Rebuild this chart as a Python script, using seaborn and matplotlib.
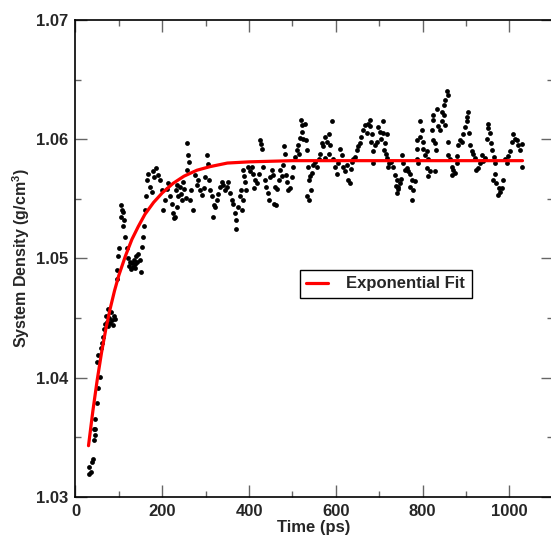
# System density vs time with exponential fit
import matplotlib
matplotlib.use("Agg")
import seaborn as sns
import matplotlib.pyplot as plt
from matplotlib.ticker import MultipleLocator, FormatStrFormatter

# simulation samples (time in ps, density in g/cm3)
time_ps = [
    30, 32, 35, 37, 40, 42, 43, 44, 45, 46,
    49, 50, 52, 53, 56, 59, 62, 64, 66, 68,
    70, 72, 74, 76, 78, 80, 82, 84, 86, 88,
    90, 95, 96, 99, 100, 104, 106, 107, 109, 110,
    112, 114, 118, 122, 124, 126, 128, 130, 132, 134,
    136, 138, 140, 142, 145, 149, 152, 154, 156, 158,
    160, 162, 164, 168, 172, 176, 179, 182, 186, 190,
    195, 199, 202, 206, 210, 214, 218, 222, 225, 227,
    229, 231, 233, 235, 237, 240, 243, 245, 248, 251,
    254, 256, 258, 260, 262, 264, 267, 271, 275, 279,
    283, 287, 291, 295, 299, 302, 306, 308, 310, 314,
    317, 319, 321, 325, 329, 333, 337, 341, 345, 349,
    352, 356, 360, 364, 368, 370, 371, 375, 379, 381,
    383, 385, 387, 389, 391, 394, 398, 402, 406, 410,
    412, 414, 418, 422, 425, 427, 429, 433, 437, 440,
    444, 446, 449, 452, 456, 458, 460, 462, 465, 468,
    471, 475, 479, 480, 482, 485, 487, 490, 494, 498,
    502, 506, 510, 513, 515, 517, 519, 521, 522, 525,
    529, 530, 533, 533, 536, 537, 538, 540, 542, 544,
    548, 552, 556, 560, 563, 567, 571, 575, 575, 579,
    583, 583, 586, 590, 594, 598, 602, 606, 609, 613,
    617, 621, 625, 629, 632, 634, 636, 640, 644, 648,
    652, 655, 659, 663, 667, 671, 675, 679, 679, 682,
    683, 685, 686, 690, 694, 698, 702, 705, 708, 709,
    711, 713, 715, 717, 717, 720, 723, 727, 732, 736,
    738, 740, 740, 742, 744, 747, 750, 752, 755, 759,
    763, 767, 771, 771, 775, 775, 778, 782, 786, 786,
    788, 790, 794, 794, 798, 801, 801, 805, 809, 809,
    813, 813, 817, 821, 823, 824, 824, 828, 828, 830,
    832, 836, 840, 844, 844, 848, 850, 851, 852, 855,
    858, 859, 859, 863, 867, 867, 871, 875, 878, 880,
    882, 886, 890, 894, 898, 901, 903, 905, 907, 909,
    913, 917, 920, 924, 928, 932, 936, 940, 944, 948,
    951, 951, 955, 957, 959, 963, 965, 967, 967, 970,
    974, 976, 978, 982, 986, 990, 994, 997, 1001, 1005,
    1009, 1012, 1017, 1020, 1024, 1028, 1030,
]
density = [
    1.0325, 1.0319, 1.0321, 1.0329, 1.0332, 1.0348, 1.0357, 1.0365, 1.0352, 1.0357,
    1.0379, 1.0413, 1.0391, 1.0419, 1.0401, 1.0425, 1.0429, 1.0434, 1.0441, 1.0445,
    1.0452, 1.0447, 1.0458, 1.0443, 1.0450, 1.0446, 1.0455, 1.0448, 1.0444, 1.0452,
    1.0449, 1.0483, 1.0490, 1.0502, 1.0509, 1.0535, 1.0545, 1.0541, 1.0539, 1.0527,
    1.0532, 1.0518, 1.0509, 1.0500, 1.0494, 1.0497, 1.0491, 1.0496, 1.0493, 1.0499,
    1.0492, 1.0495, 1.0502, 1.0497, 1.0504, 1.0499, 1.0489, 1.0510, 1.0518, 1.0527,
    1.0541, 1.0552, 1.0566, 1.0571, 1.0560, 1.0556, 1.0573, 1.0568, 1.0576, 1.0570,
    1.0566, 1.0557, 1.0541, 1.0549, 1.0558, 1.0563, 1.0552, 1.0546, 1.0538, 1.0534,
    1.0535, 1.0557, 1.0543, 1.0562, 1.0552, 1.0560, 1.0554, 1.0549, 1.0564, 1.0558,
    1.0551, 1.0597, 1.0574, 1.0587, 1.0581, 1.0549, 1.0557, 1.0541, 1.0570, 1.0562,
    1.0566, 1.0557, 1.0553, 1.0559, 1.0568, 1.0587, 1.0579, 1.0566, 1.0557, 1.0552,
    1.0535, 1.0545, 1.0543, 1.0549, 1.0554, 1.0560, 1.0564, 1.0562, 1.0557, 1.0560,
    1.0564, 1.0555, 1.0549, 1.0546, 1.0538, 1.0525, 1.0532, 1.0543, 1.0552, 1.0557,
    1.0541, 1.0549, 1.0574, 1.0569, 1.0564, 1.0557, 1.0577, 1.0573, 1.0577, 1.0571,
    1.0559, 1.0566, 1.0563, 1.0571, 1.0599, 1.0596, 1.0592, 1.0577, 1.0566, 1.0560,
    1.0555, 1.0549, 1.0568, 1.0574, 1.0570, 1.0546, 1.0560, 1.0545, 1.0558, 1.0566,
    1.0574, 1.0569, 1.0578, 1.0594, 1.0588, 1.0570, 1.0564, 1.0557, 1.0559, 1.0568,
    1.0577, 1.0585, 1.0591, 1.0595, 1.0588, 1.0601, 1.0616, 1.0606, 1.0612, 1.0600,
    1.0613, 1.0599, 1.0591, 1.0552, 1.0577, 1.0566, 1.0549, 1.0569, 1.0557, 1.0572,
    1.0578, 1.0581, 1.0577, 1.0583, 1.0588, 1.0597, 1.0594, 1.0602, 1.0584, 1.0598,
    1.0604, 1.0588, 1.0595, 1.0615, 1.0583, 1.0577, 1.0571, 1.0580, 1.0592, 1.0587,
    1.0577, 1.0573, 1.0578, 1.0566, 1.0563, 1.0575, 1.0581, 1.0583, 1.0585, 1.0591,
    1.0594, 1.0597, 1.0602, 1.0608, 1.0612, 1.0605, 1.0613, 1.0611, 1.0616, 1.0598,
    1.0604, 1.0580, 1.0590, 1.0595, 1.0598, 1.0610, 1.0606, 1.0600, 1.0615, 1.0605,
    1.0591, 1.0597, 1.0588, 1.0604, 1.0584, 1.0577, 1.0580, 1.0581, 1.0577, 1.0570,
    1.0561, 1.0566, 1.0555, 1.0558, 1.0560, 1.0563, 1.0567, 1.0587, 1.0580, 1.0574,
    1.0576, 1.0573, 1.0571, 1.0560, 1.0566, 1.0549, 1.0557, 1.0565, 1.0599, 1.0592,
    1.0583, 1.0580, 1.0615, 1.0602, 1.0608, 1.0598, 1.0592, 1.0587, 1.0590, 1.0576,
    1.0583, 1.0569, 1.0573, 1.0608, 1.0620, 1.0616, 1.0599, 1.0573, 1.0597, 1.0591,
    1.0625, 1.0611, 1.0608, 1.0623, 1.0615, 1.0620, 1.0629, 1.0633, 1.0612, 1.0640,
    1.0637, 1.0598, 1.0587, 1.0583, 1.0577, 1.0570, 1.0574, 1.0572, 1.0580, 1.0586,
    1.0595, 1.0599, 1.0598, 1.0604, 1.0610, 1.0615, 1.0619, 1.0623, 1.0605, 1.0595,
    1.0590, 1.0588, 1.0584, 1.0574, 1.0576, 1.0580, 1.0587, 1.0582, 1.0584, 1.0600,
    1.0613, 1.0609, 1.0605, 1.0597, 1.0591, 1.0566, 1.0585, 1.0580, 1.0571, 1.0563,
    1.0553, 1.0559, 1.0556, 1.0559, 1.0566, 1.0583, 1.0580, 1.0586, 1.0590, 1.0598,
    1.0604, 1.0600, 1.0599, 1.0595, 1.0591, 1.0577, 1.0596,
]

# exponential fit curve
fit_time = [30, 40, 50, 60, 70, 80, 90, 100, 115, 130, 145, 160,
            180, 200, 225, 250, 280, 310, 350, 400, 500, 1030]
fit_density = [1.0343, 1.0372, 1.0398, 1.0421, 1.0441, 1.0458, 1.0473, 1.0486,
               1.0502, 1.0516, 1.0527, 1.0537, 1.0547, 1.0555, 1.0563, 1.0569,
               1.0574, 1.0577, 1.0580, 1.0581, 1.0582, 1.0582]

sns.set_style("ticks")
plt.rcParams["font.family"] = ["Liberation Sans", "DejaVu Sans"]
plt.rcParams["font.weight"] = "bold"
plt.rcParams["mathtext.fontset"] = "custom"
plt.rcParams["mathtext.rm"] = "Liberation Sans:bold"
plt.rcParams["mathtext.default"] = "rm"

fig = plt.figure(figsize=(5.51, 5.36), dpi=100)
ax = fig.add_axes([0.137, 0.0728, 0.8664, 0.890])

sns.scatterplot(x=time_ps, y=density, color="black", s=12, linewidth=0, ax=ax)
sns.lineplot(x=fit_time, y=fit_density, color="red", linewidth=2.3,
             sort=False, estimator=None, label="Exponential Fit", ax=ax)

ax.set_xlim(0, 1100)
ax.set_ylim(1.03, 1.07)
ax.set_xticks([0, 200, 400, 600, 800, 1000])
ax.xaxis.set_minor_locator(MultipleLocator(100))
ax.yaxis.set_major_locator(MultipleLocator(0.01))
ax.yaxis.set_minor_locator(MultipleLocator(0.005))
ax.yaxis.set_major_formatter(FormatStrFormatter("%.2f"))

ax.tick_params(which="both", direction="in", top=True, right=True,
               color="#666666", width=1)
ax.tick_params(which="major", length=8.5, labelsize=12, pad=5)
ax.tick_params(which="minor", length=4.3)
for lab in ax.get_xticklabels() + ax.get_yticklabels():
    lab.set_fontweight("bold")

for sp in ax.spines.values():
    sp.set_linewidth(1.2)
    sp.set_color("black")

ax.set_xlabel("Time (ps)", fontsize=12, fontweight="bold", labelpad=1)
ax.set_ylabel("System Density (g/cm$^3$)", fontsize=11.5, fontweight="bold", labelpad=3)

leg = ax.legend(loc="center", bbox_to_anchor=(0.65, 0.4465), fancybox=False,
                edgecolor="black", framealpha=1, handlelength=1.3,
                handletextpad=1.1, borderpad=0.4,
                prop={"size": 12, "weight": "bold"})
leg.get_frame().set_linewidth(1)

fig.savefig("out.png", dpi=100)
